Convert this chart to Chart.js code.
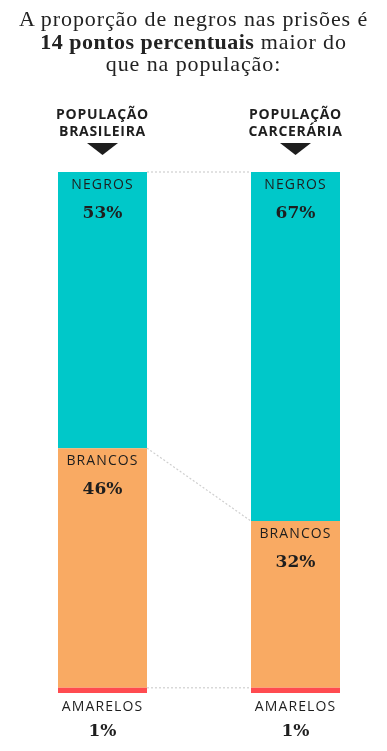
<!DOCTYPE html>
<html>
<head>
<meta charset="utf-8">
<script src="https://cdn.jsdelivr.net/npm/chart.js@4"></script>
<style>
  html, body { margin: 0; padding: 0; background: #fff; overflow: hidden; }
  body { width: 387px; height: 751px; position: relative; }
  #title {
    position: absolute; top: 8px; left: 0; width: 387px;
    text-align: center; font-family: "Liberation Serif", serif;
    font-size: 22px; line-height: 22.5px; color: #222; letter-spacing: 0.9px;
    z-index: 2;
  }
  #title b { font-weight: bold; letter-spacing: 0.5px; }
  #wrap { position: absolute; top: 0; left: 0; width: 398px; height: 751px; }
</style>
</head>
<body>
<div id="title">A proporção de negros nas prisões é<br><b>14 pontos percentuais</b> maior do<br>que na população:</div>
<div id="wrap"><canvas id="chart" width="398" height="751"></canvas></div>
<script>
// ----------------------------------------------------------------------
const categories = [["POPULAÇÃO", "BRASILEIRA"], ["POPULAÇÃO", "CARCERÁRIA"]];
const seriesNames = ["AMARELOS", "BRANCOS", "NEGROS"];
const amarelos = [1, 1];
const brancos = [46, 32];
const negros = [53, 67];

const colors = ['#ff4b50', '#f9aa63', '#00c8c9'];
const sans = '"Open Sans", sans-serif';
const serif = '"DejaVu Serif", serif';

const labelsPlugin = {
    id: 'labels',
    beforeDatasetsDraw(chart) {
        // dotted lines linking the segment tops
        const ctx = chart.ctx;
        ctx.save();
        ctx.strokeStyle = '#cfcfcf';
        ctx.lineWidth = 1.2;
        ctx.setLineDash([2, 2]);
        chart.data.datasets.forEach((ds, i) => {
            const els = chart.getDatasetMeta(i).data;
            const a = els[0], b = els[1];
            ctx.beginPath();
            ctx.moveTo(a.x + a.width / 2, a.y);
            ctx.lineTo(b.x - b.width / 2, b.y);
            ctx.stroke();
        });
        ctx.restore();
    },
    afterDatasetsDraw(chart) {
        const ctx = chart.ctx;
        ctx.save();
        ctx.textAlign = 'center';
        ctx.fillStyle = '#1e1e1e';
        const top = chart.getDatasetMeta(2).data;
        // headers + arrows
        top.forEach((el, j) => {
            ctx.font = 'bold 14px ' + sans;
            if ('letterSpacing' in ctx) ctx.letterSpacing = '0.7px';
            chart.data.labels[j].forEach((line, k) => {
                ctx.fillText(line, el.x, 118.5 + k * 17);
            });
            ctx.beginPath();
            ctx.moveTo(el.x - 15.5, 143);
            ctx.lineTo(el.x + 15.5, 143);
            ctx.lineTo(el.x, 155);
            ctx.closePath();
            ctx.fill();
        });
        // segment labels
        chart.data.datasets.forEach((ds, i) => {
            chart.getDatasetMeta(i).data.forEach((el, j) => {
                let y1, y2;
                if (i === 0) { y1 = el.base + 18; y2 = el.base + 43; }
                else { y1 = el.y + 16.5; y2 = el.y + 46; }
                ctx.font = '14px ' + sans;
                if ('letterSpacing' in ctx) ctx.letterSpacing = '1.1px';
                ctx.fillText(ds.label, el.x, y1);
                ctx.font = 'bold 17px ' + serif;
                if ('letterSpacing' in ctx) ctx.letterSpacing = '0px';
                ctx.fillText(ds.data[j] + '%', el.x, y2);
            });
        });
        ctx.restore();
    }
};

const config = {
    type: 'bar',
    data: {
        labels: categories,
        datasets: [
            { label: seriesNames[0], data: amarelos, backgroundColor: colors[0] },
            { label: seriesNames[1], data: brancos, backgroundColor: colors[1] },
            { label: seriesNames[2], data: negros, backgroundColor: colors[2] }
        ]
    },
    options: {
        responsive: false,
        animation: false,
        devicePixelRatio: 1,
        layout: { padding: { top: 172, bottom: 58, left: 6, right: 6 } },
        datasets: { bar: { categoryPercentage: 1, barPercentage: 89 / 193, borderWidth: 0 } },
        scales: {
            x: { stacked: true, display: false },
            y: { stacked: true, display: false, min: 0, max: 100 }
        },
        plugins: { legend: { display: false }, tooltip: { enabled: false }, title: { display: false } }
    },
    plugins: [labelsPlugin]
};

const chart = new Chart(document.getElementById('chart'), config);
</script>
</body>
</html>
